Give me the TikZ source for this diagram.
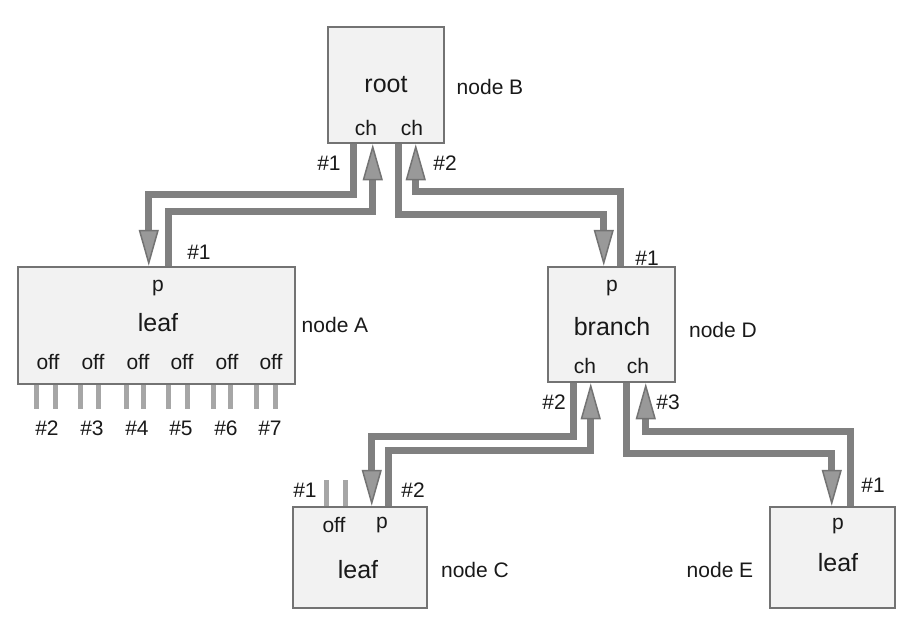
\documentclass[tikz,border=0pt]{standalone}
\usepackage{fontspec}
\setmainfont{Liberation Sans}
\usetikzlibrary{arrows.meta,calc}
\begin{document}
\begin{tikzpicture}[x=1pt,y=-1pt,
  box/.style={draw=black!55,line width=2.5pt,fill=black!5,inner sep=0pt},
  big/.style={font=\fontsize{25}{25}\selectfont,text=black!90,inner sep=0pt},
  small/.style={font=\fontsize{21}{21}\selectfont,text=black!90,inner sep=0pt},
  link/.style={draw=black!50,line width=7pt,line join=miter,
    -{Triangle[length=36pt,width=20pt,line width=1.5pt,fill=black!40,color=black!55]}},
  stub/.style={draw=black!35,line width=5pt}]
\useasboundingbox (0,0) rectangle (903,622);
% boxes
\node[box,minimum width=116pt,minimum height=116pt] (B) at (386,85) {};
\node[box,minimum width=277pt,minimum height=117pt] (A) at (156.5,325.5) {};
\node[box,minimum width=127pt,minimum height=115pt] (D) at (611.5,324.5) {};
\node[box,minimum width=134pt,minimum height=101pt] (C) at (360,557.5) {};
\node[box,minimum width=125pt,minimum height=101pt] (E) at (832.5,557.5) {};
% stubs
\foreach \a/\b in {20/39,64/82,110/127,152/171,197/214,240/259}{
  \draw[stub] ($(A.south west)+(\a,0)$) -- ++(0,24);
  \draw[stub] ($(A.south west)+(\b,0)$) -- ++(0,24);
}
\draw[stub] ($(C.north west)+(35,0)$) -- ++(0,-26);
\draw[stub] ($(C.north west)+(54,0)$) -- ++(0,-26);
% connectors
\draw[link] ($(B.south west)+(27,0)$) -- ++(0,50) -| ($(A.north west)+(132,0)$);
\draw[link] ($(A.north west)+(152,0)$) -- ++(0,-54) -| ($(B.south west)+(46,0)$);
\draw[link] ($(B.south west)+(72,0)$) -- ++(0,70) -| ($(D.north west)+(57,0)$);
\draw[link] ($(D.north west)+(74,0)$) -- ++(0,-74) -| ($(B.south west)+(89,0)$);
\draw[link] ($(D.south west)+(27,0)$) -- ++(0,53) -| ($(C.north west)+(80,0)$);
\draw[link] ($(C.north west)+(97,0)$) -- ++(0,-55) -| ($(D.south west)+(44,0)$);
\draw[link] ($(D.south west)+(80,0)$) -- ++(0,70) -| ($(E.north west)+(63,0)$);
\draw[link] ($(E.north west)+(82,0)$) -- ++(0,-74) -| ($(D.south west)+(99,0)$);
% node B
\node[big] (Broot) at (386,85) {root};
\node[small] (Bch1) at (366,128) {ch};
\node[small] (Bch2) at (412,128) {ch};
\node[small] (Blab) at (490,87) {node B};
\node[small] (Bn1) at (329,163) {\#1};
\node[small] (Bn2) at (445,163) {\#2};
% node A
\node[small] (Ap) at (158,288) {p};
\node[big] (Aleaf) at (158,323) {leaf};
\node[small] (An1) at (199,252) {\#1};
\node[small] (Alab) at (335,325) {node A};
\foreach \x/\n [count=\i] in {48/2,93/3,138/4,182/5,227/6,271/7}{
  \node[small] (Aoff\i) at (\x,362) {off};
  \node[small] (Anum\i) at (\x-1,428) {\#\n};
}
% node D
\node[small] (Dp) at (612,288) {p};
\node[big] (Dbr) at (612,327) {branch};
\node[small] (Dch1) at (585,366) {ch};
\node[small] (Dch2) at (638,366) {ch};
\node[small] (Dlab) at (723,330) {node D};
\node[small] (Dn1) at (647,258) {\#1};
\node[small] (Dn2) at (554,402) {\#2};
\node[small] (Dn3) at (668,402) {\#3};
% node C
\node[small] (Coff) at (334,525) {off};
\node[small] (Cp) at (382,525) {p};
\node[big] (Cleaf) at (358,570) {leaf};
\node[small] (Clab) at (475,570) {node C};
\node[small] (Cn1) at (305,490) {\#1};
\node[small] (Cn2) at (413,490) {\#2};
% node E
\node[small] (Ep) at (838,526) {p};
\node[big] (Eleaf) at (838,563) {leaf};
\node[small] (Elab) at (720,570) {node E};
\node[small] (En1) at (873,485) {\#1};
\end{tikzpicture}
\end{document}
